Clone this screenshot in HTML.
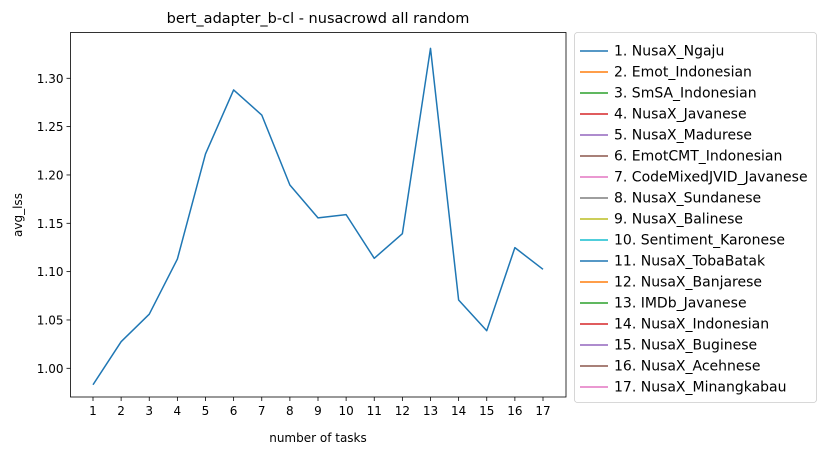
<!DOCTYPE html>
<html><head><meta charset="utf-8"><style>
body{margin:0;background:#fff;font-family:"Liberation Sans","DejaVu Sans",sans-serif}
svg text{font-family:"DejaVu Sans","Liberation Sans",sans-serif;fill:#000}
</style></head><body>
<svg id="c" width="825" height="455" xmlns="http://www.w3.org/2000/svg"></svg>
<script>
const categories=[1,2,3,4,5,6,7,8,9,10,11,12,13,14,15,16,17];
const seriesValues=[0.983,1.0275,1.056,1.113,1.2217,1.288,1.262,1.1896,1.1556,1.159,1.1138,1.1393,1.331,1.0707,1.0389,1.1248,1.1024];
const yTicks=[1.00,1.05,1.10,1.15,1.20,1.25,1.30];
const legendLabels=["1. NusaX_Ngaju","2. Emot_Indonesian","3. SmSA_Indonesian","4. NusaX_Javanese","5. NusaX_Madurese","6. EmotCMT_Indonesian","7. CodeMixedJVID_Javanese","8. NusaX_Sundanese","9. NusaX_Balinese","10. Sentiment_Karonese","11. NusaX_TobaBatak","12. NusaX_Banjarese","13. IMDb_Javanese","14. NusaX_Indonesian","15. NusaX_Buginese","16. NusaX_Acehnese","17. NusaX_Minangkabau"];
const colors=["#1f77b4","#ff7f0e","#2ca02c","#d62728","#9467bd","#8c564b","#e377c2","#7f7f7f","#bcbd22","#17becf"];
const NS="http://www.w3.org/2000/svg",svg=document.getElementById('c');
const L=70.5,R=566,T=32.5,B=397;
const xs=v=>93+(v-1)*28.125;
const ys=v=>368.3-(v-1.0)*966.7;
function mk(t,a,p){const e=document.createElementNS(NS,t);for(const k in a)e.setAttribute(k,a[k]);(p||svg).appendChild(e);return e;}
const title=mk('text',{x:318,y:23,'text-anchor':'middle','font-size':14.5});title.textContent='bert_adapter_b-cl - nusacrowd all random';


categories.forEach(c=>{const g=mk('g',{});


mk('line',{x1:xs(c),x2:xs(c),y1:B,y2:B+4,stroke:'#000','stroke-width':0.8},g);
const t=mk('text',{x:xs(c),y:B+18,'text-anchor':'middle','font-size':12},g);t.textContent=c;});
yTicks.forEach(v=>{const g=mk('g',{});


mk('line',{x1:L-4,x2:L,y1:ys(v),y2:ys(v),stroke:'#000','stroke-width':0.8},g);
const t=mk('text',{x:L-7,y:ys(v)+4.5,'text-anchor':'end','font-size':12},g);t.textContent=v.toFixed(2);});
const xl=mk('text',{x:318,y:442,'text-anchor':'middle','font-size':12});xl.textContent='number of tasks';


const yl=mk('text',{x:22,y:215,'text-anchor':'middle','font-size':12,transform:'rotate(-90 22 215)'});yl.textContent='avg_lss';


const line=mk('polyline',{points:categories.map((c,i)=>xs(c)+','+ys(seriesValues[i])).join(' '),fill:'none',stroke:colors[0],'stroke-width':1.5,'stroke-linejoin':'round'});


const fr=mk('rect',{x:L,y:T,width:R-L,height:B-T,fill:'none',stroke:'#000','stroke-width':0.8});


const lg=mk('g',{});


mk('rect',{x:574.5,y:32.5,width:242,height:370,rx:3,fill:'#fff',stroke:'#ccc','stroke-width':0.8},lg);
legendLabels.forEach((s,i)=>{const y=51+i*21;const g=mk('g',{},lg);


mk('line',{x1:580,x2:608,y1:y,y2:y,stroke:colors[i%10],'stroke-width':1.5},g);
const t=mk('text',{x:614,y:y+4.5,'font-size':14},g);t.textContent=s;});
</script>
</body></html>
